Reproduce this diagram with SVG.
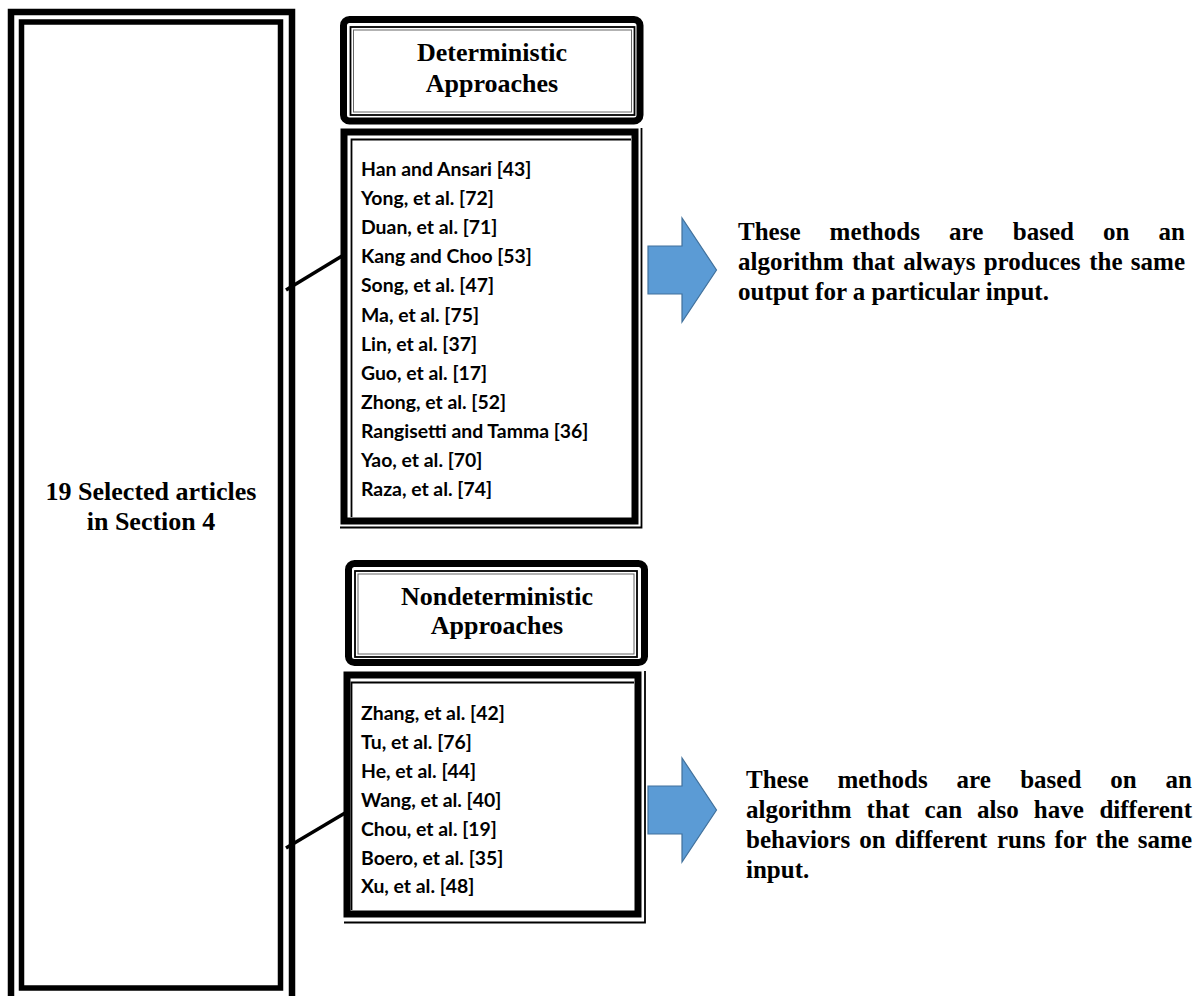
<svg xmlns="http://www.w3.org/2000/svg" width="1196" height="996" viewBox="0 0 1196 996">
<style>
.thick{fill:none;stroke:#000;}
.thin{fill:none;stroke:#000;stroke-width:1.8;}
.gray{fill:none;stroke:#666;stroke-width:1;}
.hdr{font-family:"Liberation Serif","Times New Roman",serif;font-weight:bold;font-size:26px;fill:#000;text-anchor:middle;}
.lst{font-family:Lato,"Liberation Sans",sans-serif;font-weight:bold;font-size:19.4px;fill:#000;}
.desc{font-family:"Liberation Serif","Times New Roman",serif;font-weight:bold;font-size:25px;fill:#000;}
.arrow{fill:#5B9BD5;stroke:#41719C;stroke-width:1.2;}
.conn{stroke:#000;stroke-width:3.5;fill:none;}
</style>
<rect width="1196" height="996" fill="#fff"/>

<g id="selected-articles">
<rect class="thick" x="11" y="12" width="281" height="1000" style="stroke-width:6.5"/>
<rect class="thick" x="21.5" y="22" width="259" height="966" style="stroke-width:5.5"/>
<text class="hdr" x="151" y="500">19 Selected articles</text>
<text class="hdr" x="151" y="530">in Section 4</text>
</g>

<g id="deterministic-header">
<rect class="thick" x="343.5" y="19.5" width="296.5" height="101.5" rx="6" style="stroke-width:7"/>
<rect class="thin" x="350.5" y="27" width="284" height="88"/>
<rect class="gray" x="353.5" y="30" width="278" height="82"/>
<text class="hdr" x="492" y="61">Deterministic</text>
<text class="hdr" x="492" y="92">Approaches</text>
</g>

<g id="deterministic-list">
<rect class="thick" x="344" y="132" width="291" height="389" style="stroke-width:7"/>
<path class="thin" d="M351.5 517V139.5H631"/>
<path class="thin" d="M641.5 128V527.5H340"/>
<text class="lst" x="361" y="176">Han and Ansari [43]</text>
<text class="lst" x="361" y="205.1">Yong, et al. [72]</text>
<text class="lst" x="361" y="234.2">Duan, et al. [71]</text>
<text class="lst" x="361" y="263.3">Kang and Choo [53]</text>
<text class="lst" x="361" y="292.4">Song, et al. [47]</text>
<text class="lst" x="361" y="321.5">Ma, et al. [75]</text>
<text class="lst" x="361" y="350.5">Lin, et al. [37]</text>
<text class="lst" x="361" y="379.6">Guo, et al. [17]</text>
<text class="lst" x="361" y="408.7">Zhong, et al. [52]</text>
<text class="lst" x="361" y="437.8">Rangisetti and Tamma [36]</text>
<text class="lst" x="361" y="466.9">Yao, et al. [70]</text>
<text class="lst" x="361" y="496">Raza, et al. [74]</text>
</g>

<g id="nondeterministic-header">
<rect class="thick" x="348.5" y="563.5" width="296" height="99" rx="6" style="stroke-width:7"/>
<rect class="thin" x="355" y="571" width="282" height="86"/>
<rect class="gray" x="358" y="574" width="276" height="80"/>
<text class="hdr" x="497" y="605">Nondeterministic</text>
<text class="hdr" x="497" y="634">Approaches</text>
</g>

<g id="nondeterministic-list">
<rect class="thick" x="347" y="675" width="291" height="239" style="stroke-width:7"/>
<path class="thin" d="M351.5 910V682.5H634"/>
<path class="thin" d="M645 671V922.5H344"/>
<text class="lst" x="361" y="720">Zhang, et al. [42]</text>
<text class="lst" x="361" y="748.9">Tu, et al. [76]</text>
<text class="lst" x="361" y="777.8">He, et al. [44]</text>
<text class="lst" x="361" y="806.7">Wang, et al. [40]</text>
<text class="lst" x="361" y="835.6">Chou, et al. [19]</text>
<text class="lst" x="361" y="864.5">Boero, et al. [35]</text>
<text class="lst" x="361" y="893.4">Xu, et al. [48]</text>
</g>

<g id="arrow-deterministic">
<path class="arrow" d="M648 246H682V218L716.5 270L682 322V294H648Z"/>
</g>
<g id="arrow-nondeterministic">
<path class="arrow" d="M648 786H682V758L716.5 810L682 862V834H648Z"/>
</g>

<g id="description-deterministic" class="desc">
<text x="738" y="240">These</text>
<text x="829.6" y="240">methods</text>
<text x="949" y="240">are</text>
<text x="1012.8" y="240">based</text>
<text x="1103" y="240">on</text>
<text x="1185" y="240" text-anchor="end">an</text>
<text x="738" y="270">algorithm</text>
<text x="851.9" y="270">that</text>
<text x="903.2" y="270">always</text>
<text x="983.7" y="270">produces</text>
<text x="1089.2" y="270">the</text>
<text x="1185" y="270" text-anchor="end">same</text>
<text x="738" y="300">output for a particular input.</text>
</g>

<g id="description-nondeterministic" class="desc">
<text x="746" y="788">These</text>
<text x="837.4" y="788">methods</text>
<text x="956.6" y="788">are</text>
<text x="1020.2" y="788">based</text>
<text x="1110.2" y="788">on</text>
<text x="1192" y="788" text-anchor="end">an</text>
<text x="746" y="818">algorithm</text>
<text x="866.6" y="818">that</text>
<text x="924.6" y="818">can</text>
<text x="977.1" y="818">also</text>
<text x="1033.8" y="818">have</text>
<text x="1192" y="818" text-anchor="end">different</text>
<text x="746" y="848">behaviors</text>
<text x="859.3" y="848">on</text>
<text x="894.8" y="848">different</text>
<text x="996.9" y="848">runs</text>
<text x="1054.6" y="848">for</text>
<text x="1095.6" y="848">the</text>
<text x="1192" y="848" text-anchor="end">same</text>
<text x="746" y="878">input.</text>
</g>

<g id="connectors">
<line class="conn" x1="286" y1="290" x2="342" y2="256"/>
<line class="conn" x1="286" y1="848" x2="345" y2="813"/>
</g>
</svg>
